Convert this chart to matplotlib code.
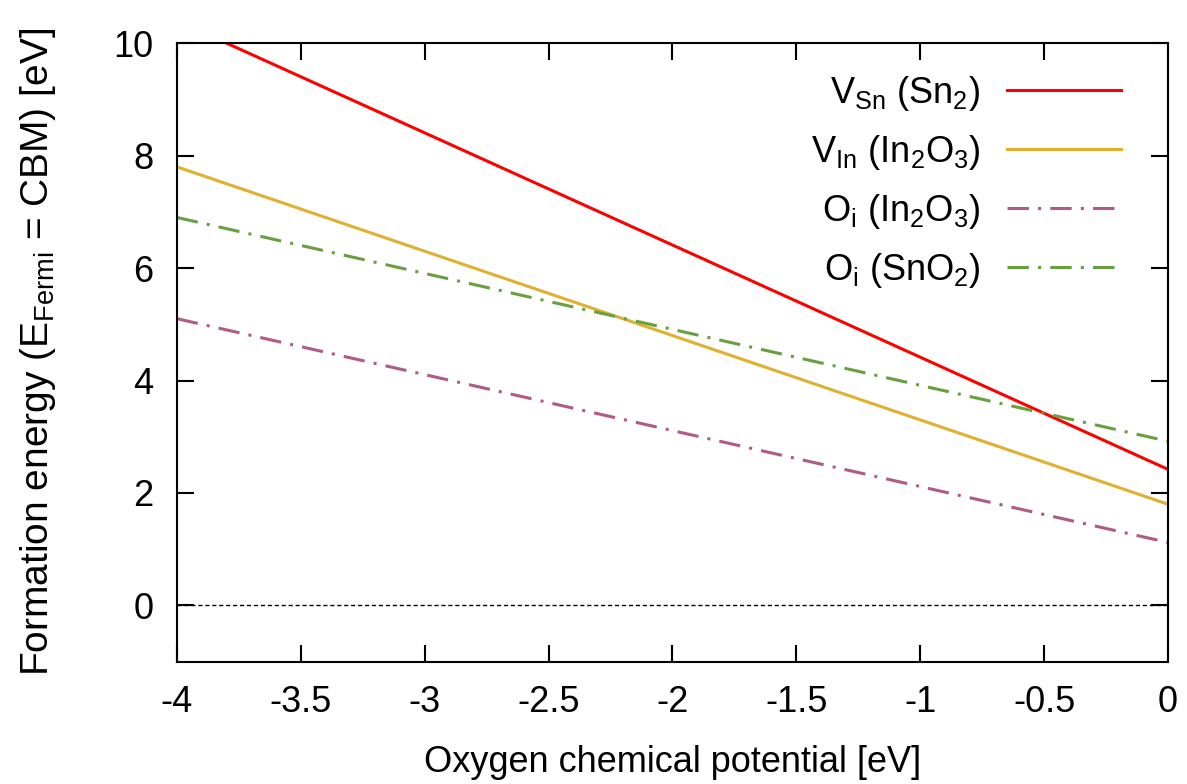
import numpy as np
import matplotlib.pyplot as plt

plt.rcParams['font.family'] = ['Liberation Sans', 'DejaVu Sans']
plt.rcParams['mathtext.fontset'] = 'custom'
plt.rcParams['mathtext.rm'] = 'Liberation Sans'
plt.rcParams['axes.unicode_minus'] = False

# oxygen chemical potential end points [eV]
mu_O = [-4.0, 0.0]
# formation energies at those end points [eV]
v_sn = [10.4, 2.42]
v_in = [7.8, 1.8]
oi_in2o3 = [5.1, 1.12]
oi_sno2 = [6.9, 2.92]

labels = [r"V$_{\mathrm{Sn}}$ (Sn$_2$)",
          r"V$_{\mathrm{In}}$ (In$_2$O$_3$)",
          r"O$_{\mathrm{i}}$ (In$_2$O$_3$)",
          r"O$_{\mathrm{i}}$ (SnO$_2$)"]

fs = 26

fig = plt.figure(figsize=(11.87, 7.84), dpi=100)
ax = fig.add_axes([0.149, 0.156, 0.835, 0.789])

lw = 2.2
dd = (0, (7, 3, 1, 3))
ax.plot(mu_O, v_sn, color="#ff0000", lw=lw, label=labels[0])
ax.plot(mu_O, v_in, color="#e0b030", lw=lw, label=labels[1])
ax.plot(mu_O, oi_in2o3, color="#b05a85", lw=lw, ls=dd, label=labels[2])
ax.plot(mu_O, oi_sno2, color="#68a040", lw=lw, ls=dd, label=labels[3])
ax.axhline(0, color="black", lw=1.0, ls=(0, (3, 2)))

ax.set_xlim(-4, 0)
ax.set_ylim(-1, 10)
ax.set_xticks(np.arange(-4, 0.01, 0.5))
ax.set_xticklabels(["-4", "-3.5", "-3", "-2.5", "-2", "-1.5", "-1", "-0.5", "0"])
ax.set_yticks([0, 2, 4, 6, 8, 10])
ax.tick_params(direction="in", length=12, width=1.5, labelsize=fs,
               top=True, right=True)
ax.tick_params(axis="x", pad=17)
ax.tick_params(axis="y", pad=17)
for s in ax.spines.values():
    s.set_linewidth(1.5)

ax.set_xlabel("Oxygen chemical potential [eV]", fontsize=fs, labelpad=18)
ax.set_ylabel(r"Formation energy (E$_{\mathrm{Fermi}}$ = CBM) [eV]", fontsize=28, labelpad=40)

ax.legend(loc="upper right", bbox_to_anchor=(1.0, 1.026), frameon=False,
          markerfirst=False, fontsize=fs, handlelength=3.15,
          handletextpad=0.75, labelspacing=0.55, borderaxespad=0.9)

fig.savefig("out.png", dpi=100)
